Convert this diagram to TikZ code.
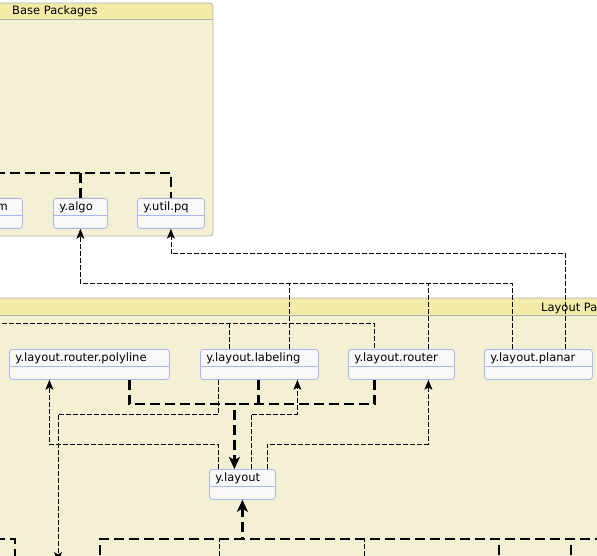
\documentclass[tikz,border=0pt]{standalone}
\usepackage{fontspec}
\setmainfont{DejaVu Sans}
\usetikzlibrary{arrows.meta}

\definecolor{groupfill}{RGB}{243,240,211}
\definecolor{headfill}{RGB}{245,235,168}
\definecolor{groupline}{RGB}{178,178,178}
\definecolor{nodefill}{RGB}{249,249,249}
\definecolor{nodeline}{RGB}{170,182,240}

\begin{document}
\begin{tikzpicture}[
  x=1pt, y=-1pt,
  font=\fontsize{11.5pt}{13pt}\selectfont,
  pkg/.style={
    draw=nodeline,
    fill=nodefill,
    line width=0.8pt,
    rounded corners=3pt,
    anchor=north west,
    align=left,
    inner xsep=6pt,
    inner ysep=0pt,
    text height=12.5pt,
    text depth=17.5pt,
    path picture={
      \draw[nodeline, line width=0.8pt]
        ([yshift=-17pt]path picture bounding box.north west) --
        ([yshift=-17pt]path picture bounding box.north east);
    }
  },
  depline/.style={line width=0.8pt, dash pattern=on 5pt off 2pt},
  dep/.style={depline, -{Stealth[length=10pt, width=8pt, inset=2.5pt]}},
  usesline/.style={line width=2.2pt, dash pattern=on 10pt off 5pt},
  uses/.style={usesline, -{Stealth[length=12pt, width=11pt, inset=3pt]}}
]

  \useasboundingbox (0,0) rectangle (597,556);
  \fill[white] (0,0) rectangle (597,556);
  \clip (0,0) rectangle (597,556);

  % Base Packages group
  \begin{scope}
    \clip[rounded corners=3pt] (-10,3) rectangle (213,236);
    \fill[groupfill] (-10,3) rectangle (213,236);
    \fill[headfill] (-10,3) rectangle (213,19);
    \draw[groupline, line width=0.8pt] (-10,19) -- (213,19);
  \end{scope}
  \draw[groupline, line width=0.8pt, rounded corners=3pt] (-10,3) rectangle (213,236);
  \node[anchor=base west, inner sep=0pt] (basehd) at (12,15) {Base Packages};

  % Layout Packages group
  \begin{scope}
    \clip[rounded corners=3pt] (-10,298) rectangle (620,590);
    \fill[groupfill] (-10,298) rectangle (620,590);
    \fill[headfill] (-10,298) rectangle (620,315);
    \draw[groupline, line width=0.8pt] (-10,315) -- (620,315);
  \end{scope}
  \draw[groupline, line width=0.8pt, rounded corners=3pt] (-10,298) rectangle (620,590);
  \node[anchor=base west, inner sep=0pt] (layouthd) at (541,311) {Layout Packages};

  % Packages
  \node[pkg, text width=50pt] (geom)   at (-40,198) {y.geom};
  \node[pkg, text width=42pt] (algo)   at (53,198)  {y.algo};
  \node[pkg, text width=55pt] (pq)     at (137,198) {y.util.pq};
  \node[pkg, text width=148pt] (poly)  at (9,349)   {y.layout.router.polyline};
  \node[pkg, text width=106pt] (lab)   at (200,349) {y.layout.labeling};
  \node[pkg, text width=94pt] (router) at (348,349) {y.layout.router};
  \node[pkg, text width=96pt] (planar) at (484,349) {y.layout.planar};
  \node[pkg, text width=54pt] (lay)    at (209,469) {y.layout};

  % Base: edges leaving to the left
  \coordinate (bw) at (-5,173);
  \draw[usesline] (bw) -| (pq.north);
  \draw[usesline] (algo.north) -- (algo.north |- bw);

  % Into y.algo and y.util.pq
  \draw[dep] ([xshift=-26pt]planar.north) |- (algo.south |- 0,283) -- (algo.south);
  \draw[depline] ([xshift=30pt]lab.north) -- ([xshift=30pt]lab.north |- 0,283);
  \draw[depline] ([xshift=27pt]router.north) -- ([xshift=27pt]router.north |- 0,283);
  \draw[dep] ([xshift=27pt]planar.north) |- (pq.south |- 0,253) -- (pq.south);

  % From the left into labeling and router
  \coordinate (lw) at (-5,323);
  \draw[depline] (lw) -| ([xshift=-27pt]router.north);
  \draw[depline] ([xshift=-30pt]lab.north) -- ([xshift=-30pt]lab.north |- lw);

  % Heavy edges into y.layout
  \draw[uses] ([xshift=40pt]poly.south) |- ([xshift=-8pt]lay.north |- 0,404) -- ([xshift=-8pt]lay.north);
  \draw[usesline] ([xshift=-1pt]lab.south) -- ([xshift=-1pt]lab.south |- 0,404);
  \draw[usesline] ([xshift=-27pt]router.south) |- ([xshift=-8pt]lay.north |- 0,404);

  % y.layout up to the others
  \draw[dep] ([xshift=-24pt]lay.north) |- ([xshift=-40pt]poly.south |- 0,444) -- ([xshift=-40pt]poly.south);
  \draw[dep] ([xshift=9pt]lay.north) |- ([xshift=38pt]lab.south |- 0,414) -- ([xshift=38pt]lab.south);
  \draw[dep] ([xshift=25pt]lay.north) |- ([xshift=27pt]router.south |- 0,444) -- ([xshift=27pt]router.south);

  % labeling down out of view
  \coordinate (ls) at (58,562);
  \draw[dep] ([xshift=-41pt]lab.south) |- (ls |- 0,414) -- (ls);

  % Packages below that use y.layout
  \coordinate (be) at (605,539);
  \coordinate (b1) at (100,570);
  \coordinate (b2) at (499,570);
  \coordinate (b3) at (571,570);
  \coordinate (t1) at (219,570);
  \coordinate (t2) at (364,570);
  \draw[uses] (b1) |- (lay.south |- be) -- (lay.south);
  \draw[usesline] (be) -- (lay.south |- be);
  \draw[usesline] (b2) -- (b2 |- be);
  \draw[usesline] (b3) -- (b3 |- be);
  \draw[depline] (t1) -- (t1 |- be);
  \draw[depline] (t2) -- (t2 |- be);
  \coordinate (lw2) at (-5,539);
  \coordinate (b0) at (15,570);
  \draw[usesline] (lw2) -| (b0);

\end{tikzpicture}
\end{document}
